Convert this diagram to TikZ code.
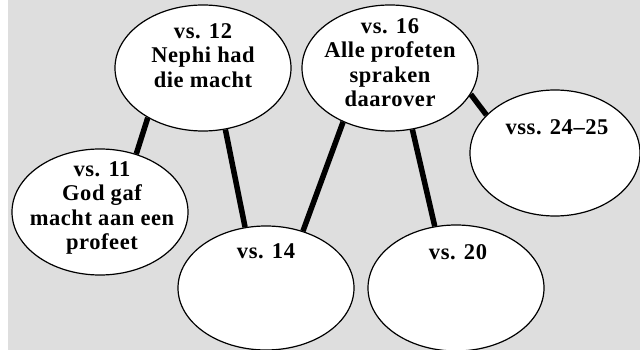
\documentclass[tikz,border=0pt]{standalone}
\usepackage{fontspec}
\setmainfont[LetterSpace=2.5]{Liberation Serif}
\usetikzlibrary{shapes.geometric}
\definecolor{bggray}{RGB}{222,222,222}
\tikzset{
  bubble/.style={ellipse, draw=black, line width=1.2pt, fill=white, inner sep=0pt},
  lbl/.style={anchor=north, align=center, inner sep=0pt, font=\bfseries\fontsize{22.5}{24.5}\selectfont},
  link/.style={line width=5.5pt, black}
}
\begin{document}
\begin{tikzpicture}[x=1pt,y=-1pt]
\useasboundingbox (0,0) rectangle (640,350);
\fill[bggray] (8,0) rectangle (640,350);
\node[bubble, minimum width=176pt, minimum height=126pt] (n12) at (203,68) {};
\node[bubble, minimum width=176pt, minimum height=126pt] (n16) at (390,68) {};
\node[bubble, minimum width=170pt, minimum height=126pt] (n24) at (555,153) {};
\node[bubble, minimum width=176pt, minimum height=126pt] (n11) at (100,212) {};
\node[bubble, minimum width=176pt, minimum height=124pt] (n14) at (266,288) {};
\node[bubble, minimum width=176pt, minimum height=126pt] (n20) at (456,288) {};
\draw[link] (n12.222) -- (n11.58);
\draw[link] (n12.290) -- (n14.109);
\draw[link] (n16.229) -- (n14.57);
\draw[link] (n16.290) -- (n20.109);
\draw[link] (n16.342) -- (n24.151);
\node[lbl] (t12) at (203,23) {vs. 12\\Nephi had\\die macht};
\node[lbl] (t16) at (390,18) {vs. 16\\Alle profeten\\spraken\\daarover};
\node[lbl] (t24) at (557,119) {vss. 24--25};
\node[lbl] (t11) at (102,161) {vs. 11\\God gaf\\macht aan een\\profeet};
\node[lbl] (t14) at (266,243) {vs. 14};
\node[lbl] (t20) at (458,244) {vs. 20};
\end{tikzpicture}
\end{document}
